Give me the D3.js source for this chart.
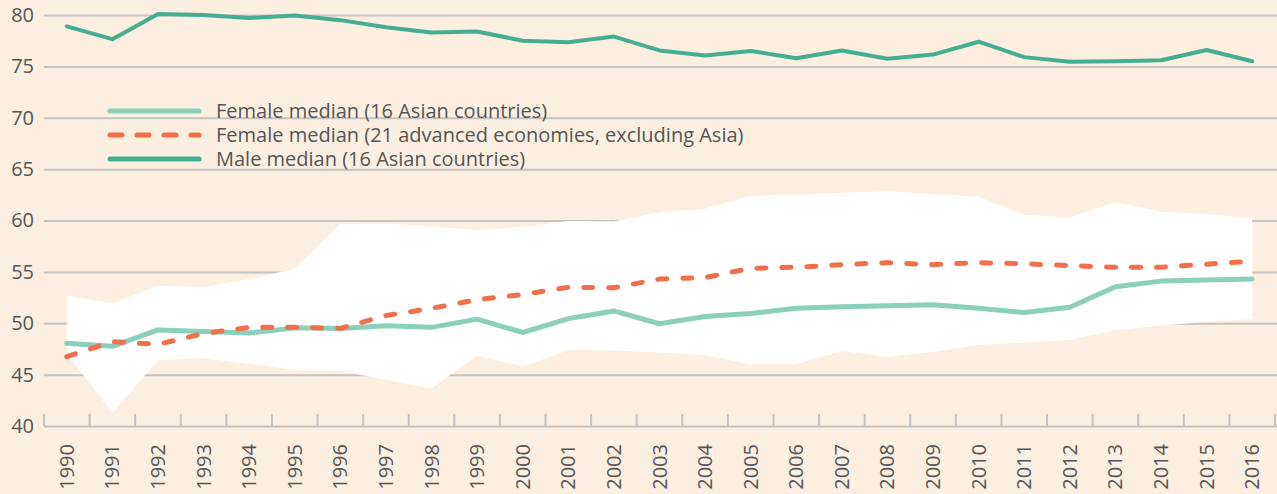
<!DOCTYPE html>
<html>
<head>
<meta charset="utf-8">
<script src="https://cdn.jsdelivr.net/npm/d3@7"></script>
<style>
  html, body { margin: 0; padding: 0; background: #fcefe0; }
  svg { display: block; font-family: "Open Sans", sans-serif; }
</style>
</head>
<body>
<div id="draw"></div>
<script>
var years = d3.range(1990, 2017);

// male median, 16 Asian countries
var maleAsia = [78.9, 77.65, 80.1, 80.0, 79.7, 79.95, 79.5, 78.8, 78.3, 78.4,
  77.5, 77.35, 77.9, 76.55, 76.05, 76.5, 75.8, 76.55, 75.75, 76.15,
  77.4, 75.9, 75.45, 75.5, 75.6, 76.6, 75.5];

// female median, 16 Asian countries
var femaleAsia = [48.05, 47.75, 49.35, 49.2, 49.05, 49.55, 49.5, 49.75, 49.6, 50.4,
  49.1, 50.45, 51.2, 49.95, 50.65, 50.95, 51.45, 51.6, 51.7, 51.8,
  51.45, 51.05, 51.55, 53.55, 54.1, 54.2, 54.3];

// female median, 21 advanced economies excl. Asia
var femaleAdv = [46.75, 48.2, 47.95, 49.0, 49.6, 49.6, 49.5, 50.75, 51.45, 52.3,
  52.8, 53.5, 53.45, 54.3, 54.45, 55.35, 55.45, 55.7, 55.9, 55.7,
  55.9, 55.8, 55.6, 55.45, 55.45, 55.75, 56.05];

// range of female rates across the 16 Asian countries (white band)
var bandHigh = [52.7, 51.95, 53.65, 53.5, 54.3, 55.3, 59.65, 59.7, 59.45, 59.05,
  59.4, 59.95, 59.9, 60.8, 61.15, 62.4, 62.55, 62.7, 62.85, 62.6,
  62.3, 60.55, 60.3, 61.8, 60.85, 60.6, 60.25];
var bandLow = [47.0, 41.3, 46.4, 46.6, 46.05, 45.45, 45.35, 44.5, 43.65, 46.85,
  45.8, 47.4, 47.35, 47.15, 46.9, 46.0, 46.0, 47.3, 46.75, 47.2,
  47.9, 48.1, 48.4, 49.35, 49.75, 50.15, 50.4];

var yTicks = [40, 45, 50, 55, 60, 65, 70, 75, 80];

var legendItems = [
  {label: 'Female median (16 Asian countries)', key: 'fa'},
  {label: 'Female median (21 advanced economies, excluding Asia)', key: 'fv'},
  {label: 'Male median (16 Asian countries)', key: 'ma'}
];

var cols = { ma: '#45ae92', fa: '#8bd0bc', fv: '#f26f4b' };
var grid = '#c4c2c3';
var txt = '#555557';

var W = 1277, H = 494;
var mLeft = 44, mRight = 1275, mTop = 15, mBottom = 426;

var svg = d3.select('#draw').append('svg')
  .attr('width', W).attr('height', H);

svg.append('rect').attr('width', W).attr('height', H).attr('fill', '#fcefe0');

var x = d3.scaleBand().domain(years).range([mLeft, mRight]).padding(0);
var y = d3.scaleLinear().domain([40, 80]).range([mBottom, mTop]);
var cx = function(yr) { return x(yr) + x.bandwidth() / 2; };

// gridlines + y labels
var yAxis = d3.axisLeft(y).tickValues(yTicks).tickSize(-(W - mLeft)).tickPadding(10);
var gy = svg.append('g').attr('transform', 'translate(' + mLeft + ',0)').call(yAxis);
gy.select('.domain').remove();
gy.selectAll('.tick line').attr('stroke', grid).attr('stroke-width', 2);
gy.selectAll('.tick text').attr('fill', txt).attr('font-size', 20)
  .attr('font-family', '"Open Sans", sans-serif');

// white band
var area = d3.area()
  .x(function(d, i) { return cx(years[i]); })
  .y0(function(d, i) { return y(bandLow[i]); })
  .y1(function(d, i) { return y(bandHigh[i]); });
svg.append('path').datum(years).attr('d', area).attr('fill', '#ffffff');

// bottom axis with ticks on band edges
var edges = years.map(function(yr) { return x(yr); }).concat([mRight]);
svg.selectAll('.edge').data(edges).enter().append('line')
  .attr('class', 'edge')
  .attr('x1', function(d) { return d; }).attr('x2', function(d) { return d; })
  .attr('y1', mBottom - 12).attr('y2', mBottom)
  .attr('stroke', grid).attr('stroke-width', 2);

var xAxis = d3.axisBottom(x).tickSize(0).tickPadding(0);
var gx = svg.append('g').attr('transform', 'translate(0,' + mBottom + ')').call(xAxis);
gx.select('.domain').remove();
gx.selectAll('.tick text')
  .attr('fill', txt).attr('font-size', 20)
  .attr('font-family', '"Open Sans", sans-serif')
  .attr('transform', 'rotate(-90)')
  .attr('text-anchor', 'end')
  .attr('dy', '0.35em')
  .attr('x', -18)
  .attr('y', 0);

// lines
var line = d3.line()
  .x(function(d, i) { return cx(years[i]); })
  .y(function(d) { return y(d); });

svg.append('path').datum(femaleAsia).attr('d', line)
  .attr('fill', 'none').attr('stroke', cols.fa).attr('stroke-width', 5)
  .attr('stroke-linejoin', 'round').attr('stroke-linecap', 'round');

svg.append('path').datum(femaleAdv).attr('d', line)
  .attr('fill', 'none').attr('stroke', cols.fv).attr('stroke-width', 5)
  .attr('stroke-dasharray', '9,16').attr('stroke-linecap', 'round');

svg.append('path').datum(maleAsia).attr('d', line)
  .attr('fill', 'none').attr('stroke', cols.ma).attr('stroke-width', 4)
  .attr('stroke-linejoin', 'round').attr('stroke-linecap', 'round');

// legend
var lg = svg.append('g').attr('transform', 'translate(110,111)');
legendItems.forEach(function(it, i) {
  var row = lg.append('g').attr('transform', 'translate(0,' + (i * 24) + ')');
  var ln = row.append('line')
    .attr('x1', 0).attr('x2', 89).attr('y1', 0).attr('y2', 0)
    .attr('stroke', cols[it.key]).attr('stroke-width', 5)
    .attr('stroke-linecap', 'round');
  if (it.key === 'fv') ln.attr('stroke-dasharray', '12,15');
  row.append('text')
    .attr('x', 106).attr('y', 0).attr('dy', '0.35em')
    .attr('font-size', 20).attr('fill', txt)
    .text(it.label);
});
</script>
</body>
</html>
